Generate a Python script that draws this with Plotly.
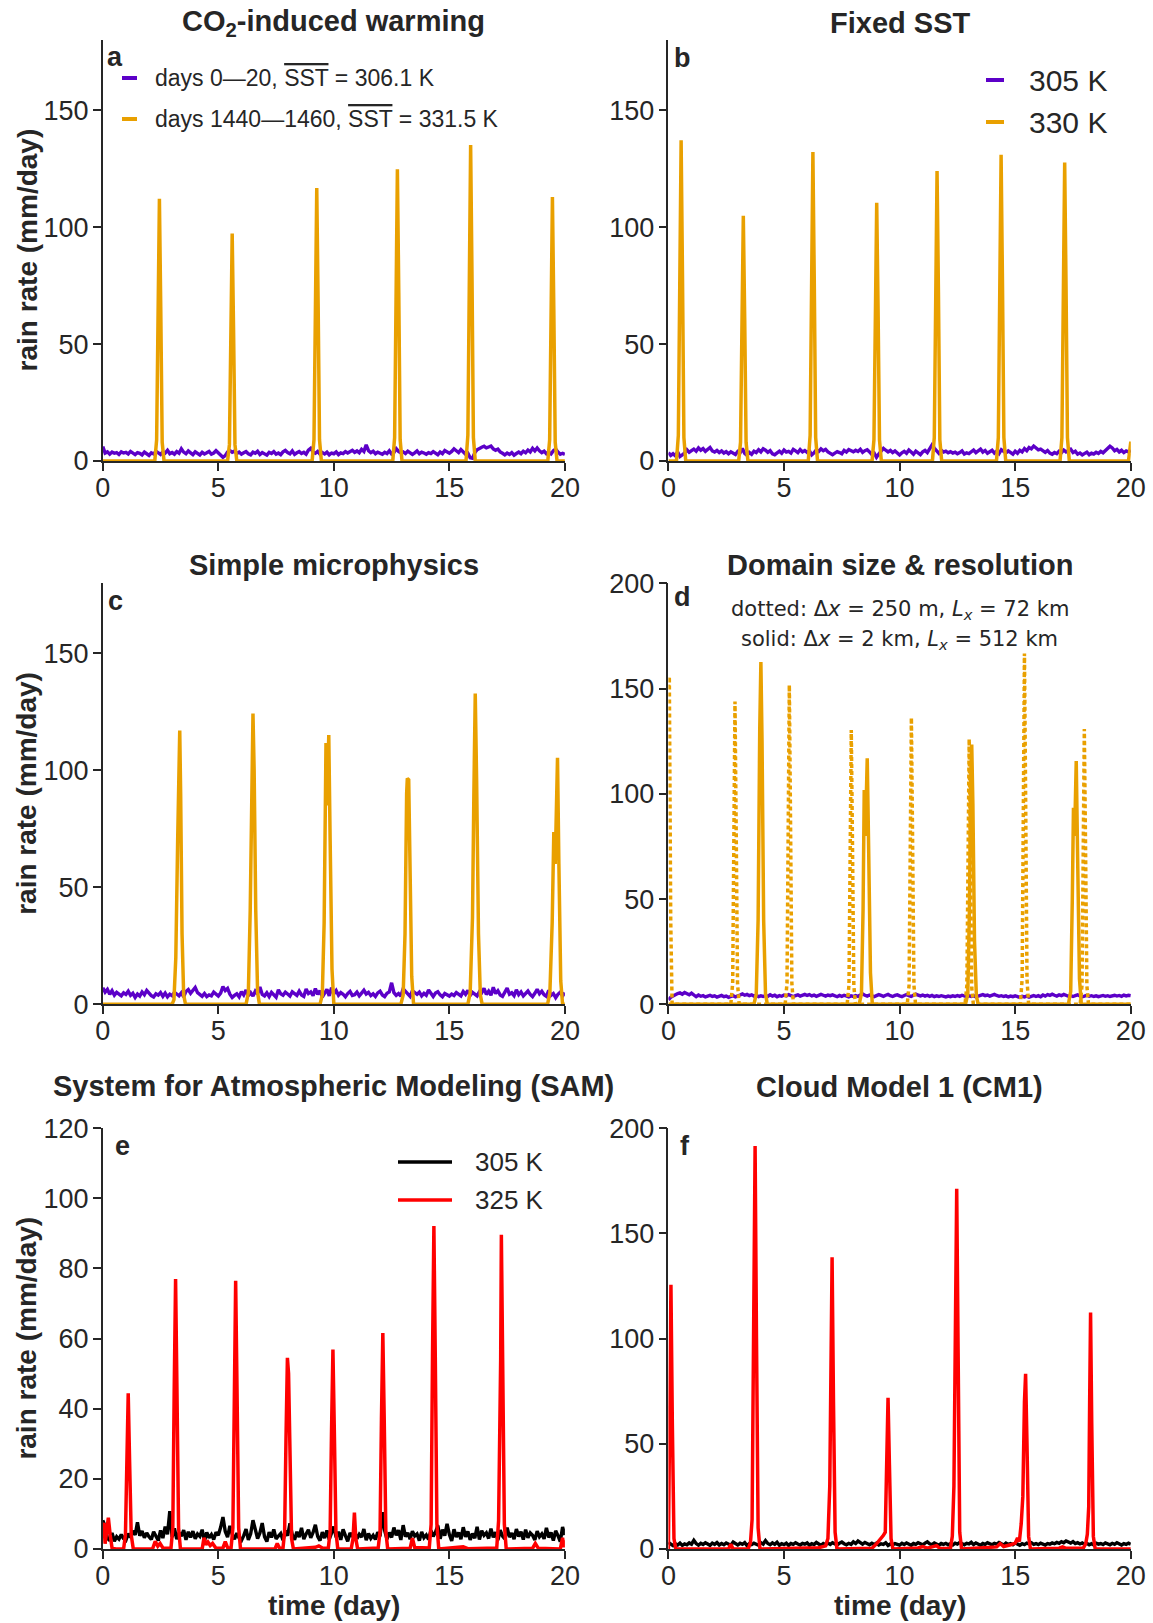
import plotly.graph_objects as go

W, H = 1153, 1623
INK = "#262626"
PURPLE = "#5c00c8"
ORANGE = "#e9a000"
RED = "#ff0000"
BLACK = "#000000"
FONT = "Liberation Sans, Arial, sans-serif"
MATH_FONT = "DejaVu Sans, sans-serif"

# ---------------------------------------------------------------------------
# Domain-mean rain rate (mm/day), sampled every 0.1 day from day 0 to day 20
# ---------------------------------------------------------------------------
STEP = 0.1

rain_a_cool = [
    6.2, 3.4, 3.9, 2.9, 3.8, 3.3, 3.6, 2.8, 3.9, 3.4,
    3.7, 3.0, 4.1, 3.2, 2.7, 3.6, 3.3, 2.6, 3.8, 3.1,
    2.4, 3.5, 3.0, 4.2, 3.3, 2.8, 3.9, 3.4, 4.6, 3.1,
    3.6, 2.9, 4.0, 3.3, 5.2, 3.8, 3.1, 4.3, 3.5, 2.7,
    3.9, 3.2, 2.6, 3.7, 3.0, 3.5, 4.1, 2.9, 3.4, 4.4,
    3.6, 2.8, 1.6, 2.3, 3.9, 4.5, 3.7, 4.2, 3.2, 3.8,
    2.9, 3.5, 4.0, 3.1, 2.6, 3.8, 3.3, 4.2, 2.8, 3.6,
    3.1, 2.5, 3.7, 3.2, 4.0, 2.9, 3.4, 2.7, 3.9, 4.5,
    3.6, 3.1, 4.3, 2.8, 3.5, 4.0, 3.2, 3.7, 2.9, 4.6,
    5.4, 3.9, 3.3, 4.1, 2.9, 3.6, 3.0, 3.8, 2.6, 3.4,
    3.1, 3.9, 2.7, 3.5, 3.2, 4.0, 3.4, 3.9, 4.6, 3.7,
    4.3, 3.5, 5.0, 4.1, 6.9, 4.4, 3.6, 4.2, 3.1, 3.8,
    3.3, 2.9, 3.7, 3.2, 4.4, 3.0, 3.6, 5.3, 4.1, 3.5,
    3.9, 3.2, 4.2, 3.6, 2.8, 3.5, 4.3, 3.1, 3.8, 3.4,
    2.9, 3.6, 3.2, 4.0, 3.4, 2.7, 3.8, 3.1, 4.5, 3.7,
    3.3, 4.1, 5.2, 4.4, 3.6, 4.9, 4.0, 2.9, 3.3, 1.4,
    1.2, 3.5, 4.8, 5.5, 5.9, 6.3, 5.6, 6.0, 6.4, 5.2,
    4.6, 5.1, 3.9, 3.3, 2.6, 3.4, 2.8, 3.6, 2.5, 3.2,
    3.8, 3.1, 4.2, 3.5, 4.7, 3.9, 5.4, 4.3, 5.6, 4.4,
    3.6, 4.2, 3.1, 3.7, 3.0, 4.4, 5.1, 3.8, 2.9, 3.3,
    2.8,
]

rain_b_305 = [
    3.6, 2.4, 3.1, 2.2, 3.9, 1.9, 2.6, 3.4, 4.8, 3.7,
    4.4, 5.1, 4.2, 5.6, 4.6, 5.3, 4.1, 4.9, 5.8, 4.3,
    3.8, 4.5, 3.6, 4.3, 3.4, 4.0, 3.1, 3.9, 3.3, 2.8,
    4.1, 3.5, 5.3, 3.2, 2.4, 3.7, 2.9, 4.2, 3.6, 4.8,
    3.9, 5.2, 4.6, 3.7, 4.4, 3.1, 2.7, 3.6, 4.2, 3.3,
    4.7, 3.8, 4.1, 3.4, 5.0, 4.3, 3.6, 4.9, 3.9, 4.5,
    3.7, 4.3, 2.6, 3.5, 4.8, 4.1, 5.2, 4.4, 5.0, 3.9,
    3.2, 2.7, 3.4, 4.0, 3.6, 3.1, 4.5, 3.8, 4.9, 4.3,
    3.9, 4.6, 4.1, 5.0, 3.7, 4.4, 4.8, 3.9, 2.8, 3.4,
    1.6, 3.0, 4.2, 5.4, 4.6, 3.9, 4.5, 3.6, 4.3, 3.2,
    2.6, 3.5, 4.1, 3.3, 4.7, 3.8, 2.9, 4.2, 3.4, 2.7,
    3.9, 4.5, 3.6, 5.2, 6.8, 5.5, 4.1, 3.3, 4.6, 3.8,
    4.2, 3.5, 4.0, 3.4, 3.8, 3.1, 3.6, 4.3, 3.0, 3.5,
    3.2, 3.9, 4.7, 3.6, 4.4, 5.1, 3.8, 4.5, 3.3, 4.0,
    4.6, 3.4, 4.2, 3.1, 4.8, 4.1, 3.5, 4.3, 3.7, 2.9,
    4.2, 3.3, 4.6, 3.9, 5.3, 4.4, 5.8, 5.2, 6.4, 5.5,
    4.8, 5.1, 4.3, 3.7, 4.5, 3.4, 2.9, 3.6, 3.1, 4.2,
    3.5, 4.7, 3.9, 4.3, 5.0, 3.6, 4.2, 2.9, 3.4, 2.6,
    3.1, 3.8, 2.7, 3.4, 3.0, 3.7, 3.2, 4.1, 3.5, 4.6,
    5.4, 6.3, 5.6, 4.4, 5.0, 3.9, 4.6, 3.6, 4.3, 3.9,
    4.5,
]

rain_c_cool = [
    7.1, 5.2, 6.4, 4.3, 5.8, 3.9, 5.1, 4.4, 3.6, 4.9,
    4.2, 5.6, 3.8, 4.7, 2.9, 4.4, 3.5, 5.3, 4.1, 5.9,
    4.6, 3.7, 3.1, 4.5, 3.9, 5.0, 3.4, 4.8, 3.2, 4.3,
    3.7, 5.1, 4.4, 3.6, 4.9, 3.2, 5.5, 6.3, 4.7, 5.8,
    7.2, 5.0, 4.1, 3.4, 4.6, 3.3, 4.0, 3.6, 5.2, 4.1,
    3.5, 4.8, 7.6, 5.9, 6.8, 4.3, 2.9, 3.8, 4.5, 3.2,
    5.4, 4.0, 6.1, 3.7, 5.0, 3.5, 5.6, 4.4, 7.4, 4.2,
    3.6, 4.9, 3.3, 5.1, 4.2, 3.0, 6.2, 4.5, 3.9, 5.2,
    4.4, 3.5, 5.3, 4.7, 3.8, 5.6, 4.0, 3.4, 6.5, 4.6,
    5.3, 3.7, 6.7, 4.2, 5.8, 3.1, 4.8, 6.4, 3.6, 7.1,
    4.5, 5.9, 3.9, 5.0, 4.3, 3.2, 4.6, 5.5, 3.8, 4.1,
    5.2, 3.6, 4.8, 6.0, 4.4, 5.1, 3.7, 4.5, 3.4, 4.9,
    5.6, 4.0, 3.3, 4.7, 5.3, 9.2, 5.0, 3.8, 4.6, 3.5,
    6.6, 5.5, 4.2, 3.4, 5.8, 4.9, 4.3, 5.2, 3.6, 4.7,
    3.9, 6.1, 4.5, 3.3, 4.8, 5.4, 4.0, 3.2, 4.6, 4.1,
    3.5, 4.4, 3.8, 5.0, 4.2, 3.6, 5.5, 4.3, 5.9, 3.8,
    5.1, 4.4, 3.6, 5.4, 4.9, 6.8, 4.2, 5.6, 3.9, 7.3,
    4.6, 5.8, 4.0, 3.4, 5.1, 6.9, 4.3, 4.9, 3.7, 6.2,
    4.1, 5.3, 3.6, 4.8, 5.7, 4.2, 3.3, 4.7, 6.4, 4.5,
    5.6, 4.1, 3.4, 6.0, 3.8, 4.6, 2.8, 4.3, 5.2, 3.6,
    5.0,
]

rain_d_cool = [
    2.1, 3.3, 3.9, 4.6, 5.1, 5.4, 4.8, 5.6, 5.2, 4.5,
    5.3, 4.2, 3.6, 4.4, 3.8, 4.1, 3.5, 3.9, 4.3, 3.7,
    4.0, 3.4, 3.8, 4.2, 3.6, 3.9, 3.3, 3.7, 4.1, 3.5,
    3.8, 4.4, 4.9, 4.3, 4.7, 4.1, 4.5, 3.9, 4.3, 3.6,
    4.0, 3.7, 4.2, 3.8, 4.5, 3.9, 4.3, 3.6, 4.1, 3.8,
    4.4, 4.0, 4.6, 4.2, 3.7, 4.1, 4.5, 3.9, 4.3, 4.7,
    4.2, 4.6, 4.0, 4.4, 3.8, 4.2, 4.7, 4.3, 3.9, 4.4,
    4.1, 4.5, 4.0, 3.6, 4.2, 3.8, 4.3, 3.9, 3.5, 4.0,
    3.7, 4.2, 3.8, 4.4, 4.9, 4.3, 3.9, 4.4, 4.0, 3.6,
    4.1, 4.6, 4.2, 3.8, 4.3, 4.7, 4.1, 3.7, 4.2, 4.5,
    4.0, 3.6, 4.2, 4.6, 4.1, 3.7, 4.3, 4.8, 4.4, 4.0,
    4.4, 3.9, 4.3, 3.8, 4.2, 3.6, 4.0, 3.7, 4.1, 3.8,
    3.5, 3.9, 3.6, 4.0, 3.7, 4.2, 3.8, 4.3, 3.9, 3.6,
    4.0, 3.7, 4.1, 3.5, 3.9, 4.3, 4.6, 4.1, 4.4, 3.9,
    4.3, 4.7, 4.2, 3.8, 4.1, 3.7, 4.0, 3.5, 3.9, 3.6,
    4.0, 3.7, 3.3, 3.8, 3.5, 3.9, 3.4, 3.8, 4.2, 3.7,
    4.1, 3.6, 4.4, 3.9, 4.6, 4.2, 4.8, 4.3, 3.9, 4.5,
    4.1, 4.7, 4.3, 3.8, 4.2, 3.7, 4.1, 4.5, 4.0, 3.6,
    3.9, 4.3, 3.8, 4.1, 3.7, 4.0, 3.6, 3.9, 4.2, 3.8,
    4.1, 3.7, 4.0, 4.3, 3.9, 4.2, 3.8, 4.4, 4.0, 4.3,
    4.1,
]

rain_e_305 = [
    8.2, 6.5, 3.1, 2.4, 4.6, 2.2, 3.5, 2.8, 4.1, 3.0,
    2.5, 4.4, 3.3, 5.2, 4.0, 7.6, 3.8, 5.1, 3.2, 4.6,
    3.5, 2.7, 4.9, 3.6, 2.4, 5.3, 3.1, 6.4, 4.2, 10.8,
    3.4, 5.9, 2.8, 4.6, 3.7, 5.4, 2.6, 4.9, 3.3, 5.1,
    2.9, 4.3, 3.6, 5.5, 2.3, 4.7, 3.2, 4.1, 2.7, 4.8,
    3.9, 6.2, 9.1, 5.0, 3.4, 6.6, 4.2, 2.8, 4.5, 3.1,
    2.4, 3.8, 5.7, 2.6, 4.3, 8.2, 5.1, 3.0, 4.6, 7.4,
    3.5, 2.1, 4.8, 3.3, 5.6, 2.9, 3.7, 4.4, 2.5, 5.2,
    3.8, 7.3, 4.1, 2.6, 4.9, 3.4, 6.0, 2.8, 4.3, 5.5,
    3.2, 4.7, 6.9, 3.6, 2.4, 4.8, 3.1, 5.3, 2.7, 4.5,
    6.4, 3.3, 4.9, 2.6, 5.6, 3.8, 2.2, 4.6, 3.5, 5.0,
    2.9, 4.2, 3.4, 5.7, 2.5, 4.4, 3.0, 3.9, 2.7, 4.8,
    3.6, 10.5, 5.2, 2.8, 4.7, 3.3, 6.1, 3.9, 5.4, 2.6,
    6.8, 3.5, 4.6, 2.8, 5.1, 3.7, 4.3, 2.4, 4.9, 3.2,
    4.0, 2.7, 5.3, 3.6, 4.8, 6.7, 2.9, 5.5, 3.8, 7.2,
    4.1, 2.3, 5.6, 3.4, 4.7, 2.8, 6.2, 3.5, 5.0, 2.6,
    4.4, 3.1, 6.3, 2.7, 5.2, 3.9, 4.6, 3.0, 5.8, 3.3,
    4.8, 2.5, 5.4, 3.7, 2.9, 6.1, 3.4, 4.5, 2.8, 5.7,
    3.6, 4.9, 2.7, 5.5, 3.2, 4.6, 3.9, 2.6, 5.1, 3.5,
    4.3, 2.9, 6.0, 3.3, 4.7, 2.4, 5.2, 3.8, 2.1, 6.3,
    4.0,
]

rain_f_305 = [
    3.1, 2.2, 1.6, 2.5, 1.9, 2.8, 1.7, 2.4, 2.0, 2.9,
    2.3, 4.1, 2.6, 1.8, 2.7, 2.1, 3.0, 2.4, 1.7, 2.8,
    2.2, 3.1, 1.9, 2.6, 2.0, 2.9, 2.3, 1.8, 3.3, 2.5,
    1.9, 2.7, 2.2, 3.0, 1.6, 2.5, 2.1, 2.8, 2.4, 1.8,
    3.0, 2.3, 4.0, 2.6, 2.0, 2.9, 2.2, 3.2, 1.8, 2.5,
    2.1, 2.8, 1.7, 2.6, 2.2, 3.0, 2.4, 1.9, 2.7, 2.3,
    2.9, 1.8, 2.5, 2.1, 3.1, 2.3, 1.7, 2.6, 2.0, 2.8,
    2.2, 3.0, 2.4, 1.9, 2.8, 3.3, 2.5, 2.0, 2.7, 2.2,
    3.4, 2.6, 3.8, 2.9, 2.3, 3.1, 2.4, 2.0, 2.7, 2.1,
    2.8, 1.9, 2.5, 2.2, 3.0, 1.7, 2.4, 2.0, 2.6, 2.3,
    1.9, 2.7, 2.1, 2.9, 2.3, 1.8, 2.6, 2.2, 3.0, 2.4,
    2.0, 2.8, 3.4, 2.5, 2.1, 2.9, 2.3, 1.8, 2.6, 2.2,
    2.7, 2.0, 2.5, 1.9, 2.8, 2.3, 3.1, 2.6, 2.0, 2.7,
    2.4, 3.2, 2.1, 2.9, 2.5, 1.8, 2.6, 2.2, 3.0, 2.4,
    2.0, 2.7, 2.3, 3.1, 2.5, 1.9, 2.8, 2.2, 2.6, 2.0,
    2.9, 2.3, 1.8, 2.5, 2.1, 2.8, 2.4, 3.0, 2.2, 2.6,
    2.1, 2.8, 2.4, 1.9, 2.6, 2.3, 2.9, 2.5, 3.1, 2.7,
    3.5, 3.0, 3.8, 3.3, 2.8, 3.5, 2.6, 3.0, 2.4, 2.9,
    2.2, 2.7, 2.0, 2.5, 1.9, 2.8, 2.3, 2.6, 2.1, 2.9,
    2.4, 2.0, 2.7, 2.2, 3.0, 2.5, 1.9, 2.6, 2.2, 2.8,
    2.3,
]

# ---------------------------------------------------------------------------
# Warm runs: rain is zero between bursts, so only the burst samples are kept
# ---------------------------------------------------------------------------
warm_a_t = [0, 2.25, 2.33, 2.39, 2.45, 2.51, 2.57, 2.65,
            5.40, 5.48, 5.54, 5.60, 5.66, 5.72, 5.80,
            9.06, 9.14, 9.20, 9.26, 9.32, 9.38, 9.46,
            12.55, 12.63, 12.69, 12.75, 12.81, 12.87, 12.95,
            15.72, 15.80, 15.86, 15.92, 15.98, 16.04, 16.12,
            19.26, 19.34, 19.40, 19.46, 19.52, 19.58, 19.66, 20]
warm_a_v = [0, 0, 9, 66, 112.1, 64, 8, 0,
            0, 7, 57, 97.3, 56, 7, 0,
            0, 9, 69, 116.7, 67, 9, 0,
            0, 10, 73, 124.7, 72, 9, 0,
            0, 11, 79, 135.1, 78, 10, 0,
            0, 9, 66, 112.9, 65, 8, 0, 0]

warm_b_t = [0, 0.35, 0.43, 0.49, 0.55, 0.61, 0.67, 0.75,
            3.04, 3.12, 3.18, 3.24, 3.30, 3.36, 3.44,
            6.05, 6.13, 6.19, 6.25, 6.31, 6.37, 6.45,
            8.81, 8.89, 8.95, 9.01, 9.07, 9.13, 9.21,
            11.42, 11.50, 11.56, 11.62, 11.68, 11.74, 11.82,
            14.19, 14.27, 14.33, 14.39, 14.45, 14.51, 14.59,
            16.94, 17.02, 17.08, 17.14, 17.20, 17.26, 17.34,
            19.90, 20.0]
warm_b_v = [0, 0, 11, 81, 137.1, 79, 10, 0,
            0, 8, 62, 104.9, 61, 8, 0,
            0, 11, 78, 132.1, 76, 10, 0,
            0, 9, 65, 110.4, 64, 9, 0,
            0, 10, 73, 124.0, 72, 9, 0,
            0, 10, 77, 130.9, 76, 10, 0,
            0, 10, 75, 127.6, 74, 10, 0,
            0, 8.3]

warm_c_t = [0, 3.00, 3.08, 3.16, 3.24, 3.29, 3.33, 3.37, 3.43, 3.50, 3.58,
            6.20, 6.30, 6.38, 6.45, 6.50, 6.55, 6.62, 6.70, 6.78,
            9.40, 9.50, 9.58, 9.66, 9.71, 9.78, 9.84, 9.92, 10.00,
            12.90, 13.00, 13.08, 13.15, 13.18, 13.24, 13.30, 13.37, 13.45,
            15.80, 15.90, 16.00, 16.06, 16.12, 16.18, 16.26, 16.34, 16.42,
            19.25, 19.35, 19.45, 19.52, 19.58, 19.64, 19.68, 19.74, 19.82, 19.90, 20]
warm_c_v = [0, 0, 2, 20, 70, 112, 117.1, 90, 30, 4, 0,
            0, 5, 40, 100, 124.3, 100, 40, 5, 0,
            0, 4, 35, 111.7, 85, 115.1, 70, 15, 0,
            0, 4, 30, 90, 96.6, 96.0, 55, 12, 0,
            0, 5, 37, 90, 132.9, 95, 30, 4, 0,
            0, 5, 35, 73.7, 60, 95, 105.4, 60, 10, 0, 0]

# Fine grid (dx = 250 m, Lx = 72 km)
warm_d_fine_t = [0, 0.04, 0.10, 0.16,
                 2.70, 2.78, 2.84, 2.88, 2.93, 2.99, 3.06,
                 5.05, 5.13, 5.19, 5.23, 5.28, 5.34, 5.41,
                 7.73, 7.81, 7.87, 7.91, 7.96, 8.02, 8.09,
                 10.33, 10.41, 10.47, 10.51, 10.56, 10.62, 10.69,
                 12.83, 12.91, 12.97, 13.01, 13.06, 13.12, 13.19,
                 15.22, 15.30, 15.36, 15.40, 15.45, 15.51, 15.58,
                 17.81, 17.89, 17.95, 17.99, 18.04, 18.10, 18.17, 20]
warm_d_fine_v = [150, 155.7, 40, 0,
                 0, 10, 90, 143.8, 85, 10, 0,
                 0, 10, 95, 151.7, 90, 10, 0,
                 0, 9, 80, 130.3, 78, 9, 0,
                 0, 9, 85, 136.2, 80, 9, 0,
                 0, 9, 78, 126.0, 75, 8, 0,
                 0, 12, 105, 166.7, 100, 12, 0,
                 0, 9, 80, 130.8, 78, 9, 0, 0]

# Coarse grid (dx = 2 km, Lx = 512 km)
warm_d_coarse_t = [0, 3.70, 3.80, 3.88, 3.95, 4.00, 4.05, 4.12, 4.20, 4.28,
                   8.25, 8.35, 8.42, 8.47, 8.52, 8.60, 8.66, 8.74, 8.82,
                   12.85, 12.95, 13.02, 13.08, 13.12, 13.17, 13.24, 13.32, 13.40,
                   17.30, 17.40, 17.47, 17.52, 17.57, 17.64, 17.70, 17.78, 17.86, 20]
warm_d_coarse_v = [0, 0, 5, 40, 130, 162.6, 125, 40, 5, 0,
                   0, 5, 45, 101.8, 80, 116.9, 75, 15, 0,
                   0, 5, 45, 110, 123.4, 95, 30, 4, 0,
                   0, 6, 50, 93.4, 80, 115.6, 70, 12, 0, 0]

sam_325_t = [0.00, 0.05, 0.10, 0.17, 0.24, 0.32, 0.40, 0.55,
             0.90, 0.98, 1.04, 1.10, 1.16, 1.23, 1.32,
             2.15, 2.27, 2.38, 2.48, 2.60,
             2.95, 3.03, 3.09, 3.15, 3.21, 3.28, 3.36,
             4.30, 4.38, 4.46, 4.55, 4.65, 4.75, 4.90,
             5.20, 5.30, 5.40, 5.55, 5.63, 5.69, 5.75, 5.81, 5.88, 5.96,
             7.45, 7.55, 7.65, 7.80, 7.87, 7.93, 7.99, 8.04, 8.10, 8.17, 8.25,
             9.20, 9.35, 9.50, 9.76, 9.84, 9.90, 9.96, 10.02, 10.09, 10.17,
             10.75, 10.83, 10.89, 10.95, 11.03,
             11.92, 12.00, 12.06, 12.12, 12.18, 12.25, 12.33,
             13.30, 13.40, 13.50,
             14.13, 14.21, 14.27, 14.33, 14.39, 14.46, 14.54,
             15.60, 15.80,
             17.05, 17.13, 17.19, 17.22, 17.25, 17.31, 17.38, 17.46,
             18.60, 18.72, 18.85, 19.80, 19.90, 19.96, 20.0]
sam_325_v = [6.8, 7.4, 1.5, 5.5, 8.9, 4.0, 0.3, 0,
             0, 4, 25, 44.4, 25, 4, 0,
             0, 2.2, 0.8, 1.6, 0.3,
             0.2, 6, 45, 77.0, 45, 6, 0,
             0, 3.2, 1.2, 2.0, 1.0, 1.6, 0.2,
             0.3, 2.1, 0.4, 0.2, 6, 45, 76.5, 45, 6, 0,
             0, 1.6, 0.2, 0.3, 5, 32, 54.5, 50, 20, 3, 0,
             0.5, 0.9, 0.3, 0.2, 5, 34, 56.9, 34, 5, 0,
             0, 3, 10.4, 3, 0,
             0.3, 5, 37, 61.6, 37, 5, 0,
             0.2, 3.1, 0.4,
             0.3, 7, 55, 92.1, 55, 7, 0,
             0.6, 0.1,
             0.3, 8, 30, 54, 89.6, 54, 7, 0,
             0.2, 1.6, 0.2, 0, 3.2, 0.5, 2.5]

cm1_325_t = [0.00, 0.05, 0.11, 0.17, 0.24, 0.32,
             2.60, 2.70, 2.80,
             3.45, 3.55, 3.62, 3.69, 3.75, 3.81, 3.88, 3.96,
             6.20, 6.50, 6.80, 6.90, 6.98, 7.03, 7.08, 7.14, 7.21, 7.29,
             8.80, 9.00, 9.10, 9.20, 9.30, 9.38, 9.44, 9.50, 9.56, 9.63, 9.71,
             10.80, 11.00, 11.20, 11.60, 11.75,
             12.20, 12.28, 12.35, 12.41, 12.47, 12.53, 12.60, 12.68,
             14.20, 14.35, 14.50, 14.80, 15.00, 15.10, 15.18, 15.26, 15.33, 15.40,
             15.45, 15.51, 15.58, 15.66,
             16.90, 17.05, 17.20, 17.95, 18.05, 18.12, 18.18, 18.22, 18.26, 18.31,
             18.38, 18.46, 20.0]
cm1_325_v = [0, 60, 125.6, 60, 5, 0,
             0, 2.2, 0,
             0, 3, 14, 100, 191.5, 100, 10, 0,
             0.3, 0.6, 1.5, 5, 30, 80, 138.7, 70, 8, 0,
             0.3, 2.5, 3.8, 4.6, 6.5, 8, 40, 71.9, 40, 5, 0,
             0.5, 1.2, 0.4, 1.6, 0.2,
             0.3, 6, 30, 100, 171.2, 95, 8, 0,
             1.0, 2.6, 1.2, 2.0, 2.8, 5.2, 3.5, 12, 25, 70,
             83.3, 50, 6, 0,
             0.4, 1.0, 0.3, 0.5, 2.5, 7.0, 20, 70, 112.4, 60,
             6, 0, 0]

x_ticks = [0, 5, 10, 15, 20]


def grid_days(values):
    return [round(STEP * i, 2) for i in range(len(values))]


# ---------------------------------------------------------------------------
# Layout helpers (pixel positions -> paper fractions)
# ---------------------------------------------------------------------------
def px(x):
    return x / W


def py(y):
    return 1 - y / H


LEFT = (102.8, 564.9)
RIGHT = (668.4, 1130.8)
ROWS = [(40.0, 461.0), (583.3, 1004.3), (1128.2, 1549.0)]

panels = [
    # key, column, row, y max, y ticks
    ("a", LEFT, ROWS[0], 180, [0, 50, 100, 150]),
    ("b", RIGHT, ROWS[0], 180, [0, 50, 100, 150]),
    ("c", LEFT, ROWS[1], 180, [0, 50, 100, 150]),
    ("d", RIGHT, ROWS[1], 200, [0, 50, 100, 150, 200]),
    ("e", LEFT, ROWS[2], 120, [0, 20, 40, 60, 80, 100, 120]),
    ("f", RIGHT, ROWS[2], 200, [0, 50, 100, 150, 200]),
]

fig = go.Figure()
layout_axes = {}
axis_ids = {}
for i, (key, col, row, ymax, yticks) in enumerate(panels, start=1):
    sfx = "" if i == 1 else str(i)
    axis_ids[key] = ("x" + sfx, "y" + sfx)
    common = dict(
        showline=True, linecolor=INK, linewidth=1.5, mirror=False,
        ticks="outside", ticklen=8, tickwidth=1.5, tickcolor=INK,
        showgrid=False, zeroline=False, automargin=False,
        tickfont=dict(family=FONT, size=27, color=INK),
    )
    layout_axes["xaxis" + sfx] = dict(
        common, domain=[px(col[0]), px(col[1])], range=[0, 20],
        tickvals=x_ticks, anchor="y" + sfx, ticklabelstandoff=-6,
    )
    layout_axes["yaxis" + sfx] = dict(
        common, domain=[py(row[1]), py(row[0])], range=[0, ymax],
        tickvals=yticks, anchor="x" + sfx, ticklabelstandoff=-1,
    )


def add_line(key, x, y, color, width=3.4, dash=None, name=None):
    xa, ya = axis_ids[key]
    fig.add_trace(go.Scatter(
        x=x, y=y, mode="lines", name=name, showlegend=False,
        line=dict(color=color, width=width, dash=dash),
        xaxis=xa, yaxis=ya, hoverinfo="x+y",
    ))


add_line("a", grid_days(rain_a_cool), rain_a_cool, PURPLE, name="days 0-20")
add_line("a", warm_a_t, warm_a_v, ORANGE, width=3.5, name="days 1440-1460")
add_line("b", grid_days(rain_b_305), rain_b_305, PURPLE, name="305 K")
add_line("b", warm_b_t, warm_b_v, ORANGE, width=3.5, name="330 K")
add_line("c", grid_days(rain_c_cool), rain_c_cool, PURPLE, name="305 K")
add_line("c", warm_c_t, warm_c_v, ORANGE, width=3.5, name="330 K")
add_line("d", grid_days(rain_d_cool), rain_d_cool, PURPLE, name="305 K")
add_line("d", warm_d_fine_t, warm_d_fine_v, ORANGE, width=3.5,
         dash="4px,3px", name="330 K, 250 m")
add_line("d", warm_d_coarse_t, warm_d_coarse_v, ORANGE, width=3.5,
         name="330 K, 2 km")
add_line("e", grid_days(rain_e_305), rain_e_305, BLACK, name="305 K")
add_line("e", sam_325_t, sam_325_v, RED, width=3.5, name="325 K")
add_line("f", grid_days(rain_f_305), rain_f_305, BLACK, name="305 K")
add_line("f", cm1_325_t, cm1_325_v, RED, width=3.5, name="325 K")

# ---------------------------------------------------------------------------
# Text: titles, panel letters, axis titles, legends
# ---------------------------------------------------------------------------
annotations = []
shapes = []


def text(x, y, s, size, bold=False, xanchor="center", yanchor="middle",
         angle=0, family=FONT):
    annotations.append(dict(
        x=px(x), y=py(y), xref="paper", yref="paper", text=s,
        showarrow=False, xanchor=xanchor, yanchor=yanchor, textangle=angle,
        font=dict(family=family, size=size, color=INK,
                  weight="bold" if bold else "normal"),
    ))


def mid(c):
    return (c[0] + c[1]) / 2


titles = [
    (LEFT, 23, "CO<sub>2</sub>-induced warming"),
    (RIGHT, 23, "Fixed SST"),
    (LEFT, 565, "Simple microphysics"),
    (RIGHT, 565, "Domain size & resolution"),
    (LEFT, 1086, "System for Atmospheric Modeling (SAM)"),
    (RIGHT, 1087, "Cloud Model 1 (CM1)"),
]
for col, y, s in titles:
    text(mid(col), y, s, 29, bold=True)

for letter, x, y in [("a", 115, 57), ("b", 682, 58), ("c", 115.5, 601),
                     ("d", 682, 597), ("e", 122, 1146), ("f", 685, 1146)]:
    text(x, y, letter, 27, bold=True)

for row in ROWS:
    text(27, mid(row), "rain rate (mm/day)", 28, bold=True, angle=-90)
for col in (LEFT, RIGHT):
    text(mid(col), 1605, "time (day)", 28, bold=True)

text(mid(RIGHT), 610,
     "dotted: Δ<i>x</i> = 250 m, <i>L<sub>x</sub></i> = 72 km", 21,
     family=MATH_FONT)
text(mid(RIGHT), 640,
     "solid: Δ<i>x</i> = 2 km, <i>L<sub>x</sub></i> = 512 km", 21,
     family=MATH_FONT)

SST_BAR = '<span style="text-decoration:overline">SST</span>'
legends = [
    # line start, line end, text x, rows, font size, line width
    (122, 137, 153, [(78, PURPLE, "days 0—20, " + SST_BAR + " = 306.1 K"),
                     (119, ORANGE, "days 1440—1460, " + SST_BAR + " = 331.5 K")], 23, 4),
    (986, 1004, 1027, [(80, PURPLE, "305 K"), (122, ORANGE, "330 K")], 30, 4),
    (398, 452, 473, [(1162, BLACK, "305 K"), (1200, RED, "325 K")], 26, 3.5),
]
for x0, x1, tx, rows, size, lw in legends:
    for y, color, label in rows:
        shapes.append(dict(type="line", xref="paper", yref="paper",
                           x0=px(x0), x1=px(x1), y0=py(y), y1=py(y),
                           line=dict(color=color, width=lw)))
        text(tx, y, label, size, xanchor="left")

fig.update_layout(
    width=W, height=H, autosize=False,
    margin=dict(l=0, r=0, t=0, b=0, pad=0),
    paper_bgcolor="white", plot_bgcolor="white",
    showlegend=False,
    font=dict(family=FONT, color=INK),
    annotations=annotations,
    shapes=shapes,
    **layout_axes,
)

page_reset = (
    "document.documentElement.style.margin='0';"
    "document.body.style.margin='0';"
    "document.body.style.overflow='hidden';"
)
fig.write_html("out.html", config={"displayModeBar": False},
               post_script=page_reset)
